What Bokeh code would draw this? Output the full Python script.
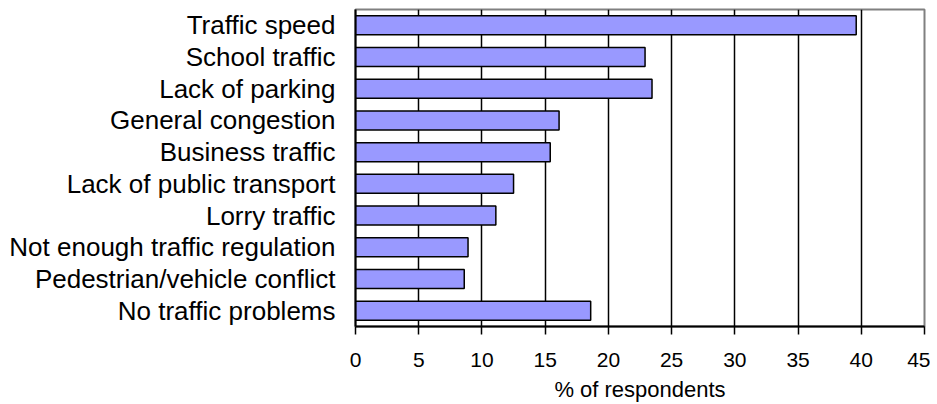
from bokeh.plotting import figure
from bokeh.models import Range1d, FactorRange, FixedTicker, ColumnDataSource
from bokeh.embed import file_html
from bokeh.resources import INLINE

categories = ["Traffic speed", "School traffic", "Lack of parking", "General congestion",
              "Business traffic", "Lack of public transport", "Lorry traffic",
              "Not enough traffic regulation", "Pedestrian/vehicle conflict", "No traffic problems"]
values = [39.6, 22.9, 23.45, 16.1, 15.4, 12.5, 11.1, 8.9, 8.6, 18.6]
x_ticks = [0, 5, 10, 15, 20, 25, 30, 35, 40, 45]
x_title = "% of respondents"

FONT = "Liberation Sans"

src = ColumnDataSource(dict(cat=categories, val=values))

p = figure(width=930, height=404, output_backend="svg", toolbar_location=None,
           x_range=Range1d(0, 45), y_range=FactorRange(factors=list(reversed(categories))),
           min_border_left=355, min_border_right=6, min_border_top=9, min_border_bottom=77)

p.hbar(y="cat", right="val", left=0, height=0.6, source=src,
       fill_color="#9999FF", line_color="black", line_width=1.5)

p.outline_line_color="#808080"
p.outline_line_width=2
p.background_fill_color="white"
p.border_fill_color="white"

# grid
p.ygrid.grid_line_color=None
p.xgrid.ticker = FixedTicker(ticks=x_ticks[1:-1])
p.xgrid.grid_line_color="black"
p.xgrid.grid_line_width=1.5
p.xgrid.level="underlay"

# x axis
xa = p.xaxis[0]
xa.ticker = FixedTicker(ticks=x_ticks)
xa.axis_line_color="black"
xa.axis_line_width=2
xa.major_tick_line_color="black"
xa.major_tick_line_width=1.5
xa.major_tick_out=8
xa.major_tick_in=0
xa.minor_tick_line_color=None
xa.major_label_text_font=FONT
xa.major_label_text_font_size="21px"
xa.major_label_text_color="black"
xa.major_label_standoff=18
xa.axis_label=x_title
xa.axis_label_text_font=FONT
xa.axis_label_text_font_size="22px"
xa.axis_label_text_font_style="normal"
xa.axis_label_text_color="black"
xa.axis_label_standoff=7

# y axis
ya = p.yaxis[0]
ya.axis_line_color="black"
ya.axis_line_width=2
ya.major_tick_line_color=None
ya.major_tick_out=0
ya.minor_tick_line_color=None
ya.major_label_text_font=FONT
ya.major_label_text_font_size="26px"
ya.major_label_text_color="black"
ya.major_label_standoff=20

open("out.html", "w").write(file_html(p, INLINE))
